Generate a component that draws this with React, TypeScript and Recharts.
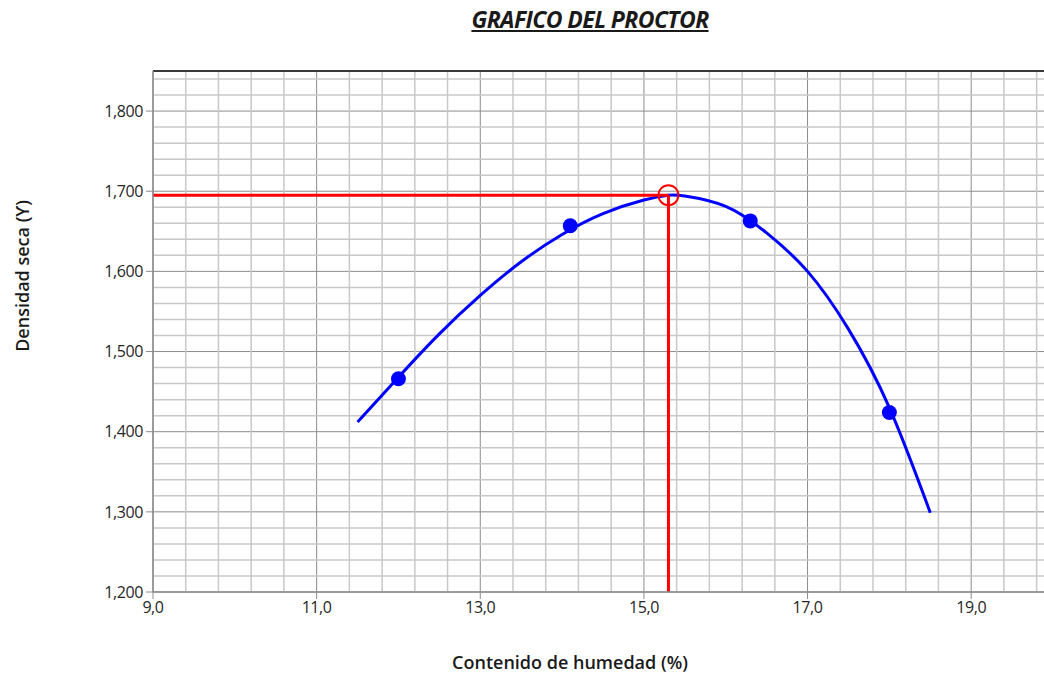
import React from 'react';
import {
  ComposedChart,
  Line,
  Scatter,
  XAxis,
  YAxis,
  CartesianGrid,
  ReferenceLine,
  ReferenceDot
} from 'recharts';

// Ensayo Proctor: puntos medidos
const humedad = [12.0, 14.1, 16.3, 18.0];
const densidad = [1466, 1657, 1663, 1424];

// Curva de ajuste
const curvaHumedad = [11.5, 12.0, 12.5, 13.0, 13.5, 14.0, 14.5, 15.0, 15.3, 15.5, 16.0, 16.5, 17.0, 17.5, 18.0, 18.5];
const curvaDensidad = [1412, 1468, 1522, 1570, 1612, 1646, 1672, 1689, 1695, 1694, 1681, 1648, 1600, 1528, 1430, 1299];

// Optimo
const humedadOptima = 15.3;
const densidadMaxima = 1695;

// Ejes
const xTicks = [9, 11, 13, 15, 17, 19];
const yTicks = [1200, 1300, 1400, 1500, 1600, 1700, 1800];
const xMinor = [9.4, 9.8, 10.2, 10.6, 11.4, 11.8, 12.2, 12.6, 13.4, 13.8, 14.2, 14.6, 15.4, 15.8, 16.2, 16.6, 17.4, 17.8, 18.2, 18.6, 19.4, 19.8];
const yMinor = [1220, 1240, 1260, 1280, 1320, 1340, 1360, 1380, 1420, 1440, 1460, 1480, 1520, 1540, 1560, 1580, 1620, 1640, 1660, 1680, 1720, 1740, 1760, 1780, 1820, 1840];
const xDomain = [9, 20];
const yDomain = [1200, 1850];

const FONT = '"Open Sans", "Noto Sans", sans-serif';

const App: React.FC = () => {
  const puntos = humedad.map((x, i) => ({ x, y: densidad[i] }));
  const curva = curvaHumedad.map((x, i) => ({ x, y: curvaDensidad[i] }));

  const tickStyle = { fill: '#262626', fontSize: 16, fontFamily: FONT, letterSpacing: -0.4 };

  return (
    <div style={{ position: 'fixed', left: 0, top: 0, width: 1044, height: 677, overflow: 'hidden', background: '#fff', fontFamily: FONT }}>
      <div style={{ position: 'absolute', left: 0, width: 1180, top: 3, textAlign: 'center', fontSize: 23, fontWeight: 700, fontStyle: 'italic', textDecoration: 'underline', color: '#1a1a1a', letterSpacing: -0.6 }}>
        GRAFICO DEL PROCTOR
      </div>
      <div style={{ position: 'absolute', left: 22, top: 276, transform: 'translate(-50%, -50%) rotate(-90deg)', whiteSpace: 'nowrap', fontSize: 18, fontWeight: 600, color: '#1a1a1a', letterSpacing: 0 }}>
        Densidad seca (ϒ)
      </div>
      <div style={{ position: 'absolute', left: 570, top: 662, transform: 'translate(-50%, -50%)', whiteSpace: 'nowrap', fontSize: 18, fontWeight: 600, color: '#1a1a1a', letterSpacing: 0 }}>
        Contenido de humedad (%)
      </div>
      <ComposedChart width={1053} height={677} margin={{ top: 71, right: 0, bottom: 0, left: 0 }}>
        <XAxis
          type="number"
          dataKey="x"
          domain={xDomain}
          ticks={xTicks}
          height={85}
          tickSize={7}
          tickMargin={3}
          tick={tickStyle}
          tickLine={{ stroke: '#8c8c8c' }}
          axisLine={{ stroke: '#8c8c8c', strokeWidth: 1.5 }}
          tickFormatter={(v: number) => v.toFixed(1).replace('.', ',')}
        />
        <YAxis
          type="number"
          dataKey="y"
          domain={yDomain}
          ticks={yTicks}
          width={153}
          tickSize={7}
          tickMargin={3}
          tick={tickStyle}
          tickLine={{ stroke: '#8c8c8c' }}
          axisLine={{ stroke: '#8c8c8c', strokeWidth: 1.5 }}
          tickFormatter={(v: number) => v.toLocaleString('en-US')}
        />
        {xMinor.map((v) => (
          <ReferenceLine key={'mx' + v} x={v} stroke="#c8c8c8" strokeWidth={1.5} />
        ))}
        {yMinor.map((v) => (
          <ReferenceLine key={'my' + v} y={v} stroke="#c8c8c8" strokeWidth={1.5} />
        ))}
        <CartesianGrid stroke="#8c8c8c" strokeWidth={1} />
        <ReferenceLine y={yDomain[1]} stroke="#3a3a3a" strokeWidth={2} />
        <Line
          data={curva}
          dataKey="y"
          type="natural"
          stroke="#0000ff"
          strokeWidth={3}
          dot={false}
          activeDot={false}
          isAnimationActive={false}
        />
        <Scatter
          data={puntos}
          dataKey="y"
          fill="#0000ff"
          isAnimationActive={false}
          shape={(p: any) => <circle cx={p.cx} cy={p.cy} r={7.5} fill="#0000ff" />}
        />
        <ReferenceLine
          segment={[{ x: xDomain[0], y: densidadMaxima }, { x: humedadOptima, y: densidadMaxima }]}
          stroke="#ff0000"
          strokeWidth={3}
        />
        <ReferenceLine
          segment={[{ x: humedadOptima, y: densidadMaxima }, { x: humedadOptima, y: yDomain[0] }]}
          stroke="#ff0000"
          strokeWidth={3}
        />
        <ReferenceDot x={humedadOptima} y={densidadMaxima} r={10} fill="none" stroke="#ff0000" strokeWidth={2} />
      </ComposedChart>
    </div>
  );
};

export default App;
